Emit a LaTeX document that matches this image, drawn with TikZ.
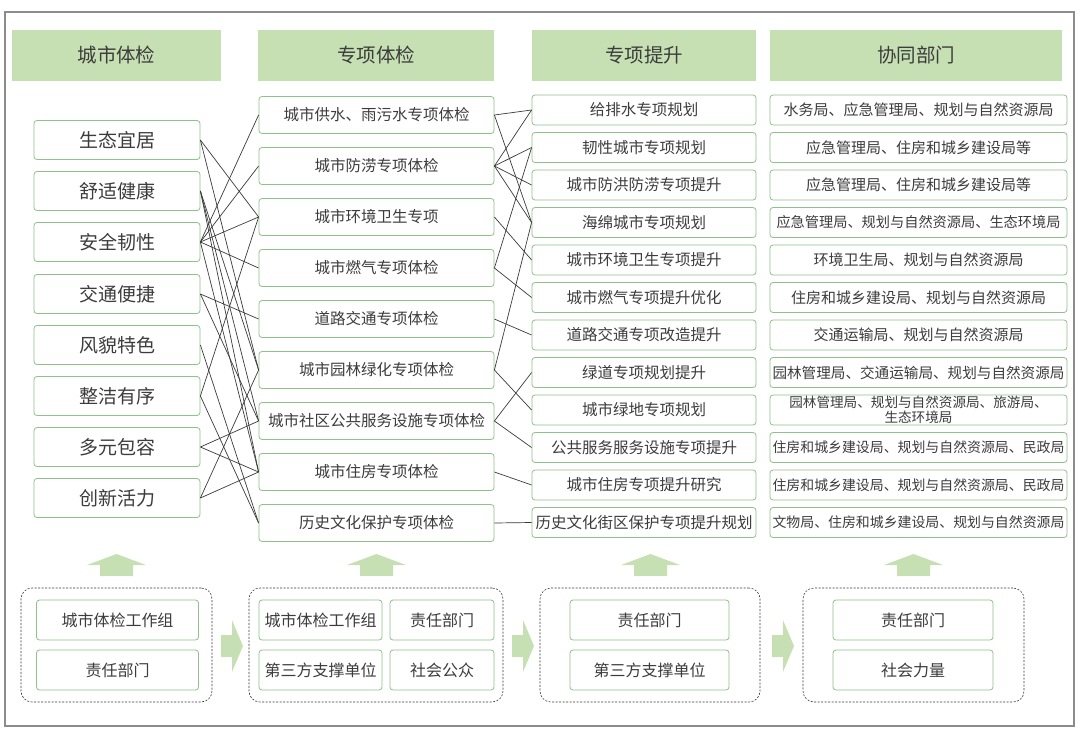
\documentclass[tikz,border=0pt]{standalone}
\usepackage{fontspec}
\setmainfont{Noto Sans CJK SC}
\definecolor{hdgreen}{HTML}{C6E0B4}
\definecolor{bxgreen}{HTML}{8FC28A}
\definecolor{txtgray}{HTML}{3C3C3C}
\definecolor{lngray}{HTML}{3A3A3A}
\definecolor{framegray}{HTML}{8C8C8C}
\usetikzlibrary{positioning}

\begin{document}
\begin{tikzpicture}[x=1pt,y=-1pt,
  headnode/.style={fill=hdgreen,inner sep=0pt,minimum height=51pt,text=txtgray,font=\fontsize{19.5}{19.5}\selectfont},
  itemnode/.style={draw=bxgreen,fill=white,rounded corners=3pt,inner sep=0pt,line width=0.8pt,text=txtgray},
  dimnode/.style={itemnode,minimum width=166pt,minimum height=39pt,font=\fontsize{19}{19}\selectfont},
  chknode/.style={itemnode,minimum width=235pt,minimum height=37pt,font=\fontsize{15.5}{15.5}\selectfont},
  upnode/.style={itemnode,minimum width=224pt,minimum height=30pt,font=\fontsize{15.5}{15.5}\selectfont},
  depnode/.style={itemnode,minimum width=297pt,minimum height=30pt,font=\fontsize{15}{15}\selectfont,align=center},
  grpnode/.style={draw=lngray,dashed,dash pattern=on 2pt off 1.5pt,rounded corners=11pt,line width=0.6pt},
  orgnode/.style={itemnode,minimum height=40pt,font=\fontsize{16}{16}\selectfont},
  link/.style={lngray,line width=0.7pt},
  blockarrow/.style={fill=hdgreen}
]
  \useasboundingbox (0,0) rectangle (1080,729);
  \draw[framegray,line width=1.2pt] (5,12) rectangle (1074,726);
  % Headers
  \node[headnode,minimum width=209pt] (h1) at (116.5,55.5) {城市体检};
  \node[headnode,minimum width=236pt] (h2) at (376,55.5) {专项体检};
  \node[headnode,minimum width=224pt] (h3) at (644,55.5) {专项提升};
  \node[headnode,minimum width=292pt] (h4) at (916,55.5) {协同部门};
  % City check dimensions
  \node[dimnode] (t1) at (117,140) {生态宜居};
  \node[dimnode] (t2) at (117,191) {舒适健康};
  \node[dimnode] (t3) at (117,242) {安全韧性};
  \node[dimnode] (t4) at (117,294) {交通便捷};
  \node[dimnode] (t5) at (117,345) {风貌特色};
  \node[dimnode] (t6) at (117,396) {整洁有序};
  \node[dimnode] (t7) at (117,447) {多元包容};
  \node[dimnode] (t8) at (117,498) {创新活力};
  % Special checks
  \node[chknode] (s1) at (376.5,115) {城市供水、雨污水专项体检};
  \node[chknode] (s2) at (376.5,166) {城市防涝专项体检};
  \node[chknode] (s3) at (376.5,217) {城市环境卫生专项};
  \node[chknode] (s4) at (376.5,268) {城市燃气专项体检};
  \node[chknode] (s5) at (376.5,319) {道路交通专项体检};
  \node[chknode] (s6) at (376.5,370) {城市园林绿化专项体检};
  \node[chknode] (s7) at (376.5,421) {城市社区公共服务设施专项体检};
  \node[chknode] (s8) at (376.5,472) {城市住房专项体检};
  \node[chknode] (s9) at (376.5,523) {历史文化保护专项体检};
  % Special upgrades
  \node[upnode] (p1) at (644,110) {给排水专项规划};
  \node[upnode] (p2) at (644,147.5) {韧性城市专项规划};
  \node[upnode] (p3) at (644,185) {城市防洪防涝专项提升};
  \node[upnode] (p4) at (644,222.5) {海绵城市专项规划};
  \node[upnode] (p5) at (644,260) {城市环境卫生专项提升};
  \node[upnode] (p6) at (644,297.5) {城市燃气专项提升优化};
  \node[upnode] (p7) at (644,335) {道路交通专项改造提升};
  \node[upnode] (p8) at (644,372.5) {绿道专项规划提升};
  \node[upnode] (p9) at (644,410) {城市绿地专项规划};
  \node[upnode] (p10) at (644,447.5) {公共服务服务设施专项提升};
  \node[upnode] (p11) at (644,485) {城市住房专项提升研究};
  \node[upnode] (p12) at (644,522.5) {历史文化街区保护专项提升规划};
  % Departments
  \node[depnode] (d1) at (918.5,110) {水务局、应急管理局、规划与自然资源局};
  \node[depnode] (d2) at (918.5,147.5) {应急管理局、住房和城乡建设局等};
  \node[depnode] (d3) at (918.5,185) {应急管理局、住房和城乡建设局等};
  \node[depnode,font=\fontsize{14.2}{14.2}\selectfont] (d4) at (918.5,222.5) {应急管理局、规划与自然资源局、生态环境局};
  \node[depnode] (d5) at (918.5,260) {环境卫生局、规划与自然资源局};
  \node[depnode] (d6) at (918.5,297.5) {住房和城乡建设局、规划与自然资源局};
  \node[depnode] (d7) at (918.5,335) {交通运输局、规划与自然资源局};
  \node[depnode,font=\fontsize{14.6}{14.6}\selectfont] (d8) at (918.5,372.5) {园林管理局、交通运输局、规划与自然资源局};
  \node[depnode,font=\fontsize{13.6}{15}\selectfont] (d9) at (918.5,410) {园林管理局、规划与自然资源局、旅游局、\\生态环境局};
  \node[depnode,font=\fontsize{13.9}{13.9}\selectfont] (d10) at (918.5,447.5) {住房和城乡建设局、规划与自然资源局、民政局};
  \node[depnode,font=\fontsize{13.9}{13.9}\selectfont] (d11) at (918.5,485) {住房和城乡建设局、规划与自然资源局、民政局};
  \node[depnode,font=\fontsize{13.9}{13.9}\selectfont] (d12) at (918.5,522.5) {文物局、住房和城乡建设局、规划与自然资源局};
  % Links: dimensions to special checks
  \draw[link] (t1.east) -- (s3.west);
  \draw[link] (t1.east) -- (s6.west);
  \draw[link] (t2.east) -- (s6.west);
  \draw[link] (t2.east) -- (s7.west);
  \draw[link] (t2.east) -- (s8.west);
  \draw[link] (t3.east) -- (s1.west);
  \draw[link] (t3.east) -- (s2.west);
  \draw[link] (t3.east) -- (s3.west);
  \draw[link] (t3.east) -- (s4.west);
  \draw[link] (t3.east) -- (s8.west);
  \draw[link] (t4.east) -- (s5.west);
  \draw[link] (t4.east) -- (s7.west);
  \draw[link] (t5.east) -- (s9.west);
  \draw[link] (t6.east) -- (s3.west);
  \draw[link] (t6.east) -- (s9.west);
  \draw[link] (t7.east) -- (s7.west);
  \draw[link] (t7.east) -- (s8.west);
  \draw[link] (t8.east) -- (s6.west);
  \draw[link] (t8.east) -- (s8.west);
  % Links: special checks to upgrades
  \draw[link] (s1.east) -- (p1.west);
  \draw[link] (s1.east) -- (p4.west);
  \draw[link] (s2.east) -- (p1.west);
  \draw[link] (s2.east) -- (p2.west);
  \draw[link] (s2.east) -- (p3.west);
  \draw[link] (s2.east) -- (p4.west);
  \draw[link] (s3.east) -- (p5.west);
  \draw[link] (s4.east) -- (p2.west);
  \draw[link] (s4.east) -- (p6.west);
  \draw[link] (s5.east) -- (p7.west);
  \draw[link] (s6.east) -- (p4.west);
  \draw[link] (s6.east) -- (p9.west);
  \draw[link] (s7.east) -- (p8.west);
  \draw[link] (s7.east) -- (p10.west);
  \draw[link] (s8.east) -- (p11.west);
  \draw[link] (s9.east) -- (p12.west);
  % Up arrows
  \fill[blockarrow] (100,576) -- (100,565) -- (87,565) -- (116.5,554) -- (146,565) -- (133,565) -- (133,576) -- cycle;
  \fill[blockarrow] (360,576) -- (360,565) -- (347,565) -- (376.5,554) -- (406,565) -- (393,565) -- (393,576) -- cycle;
  \fill[blockarrow] (634,576) -- (634,565) -- (621,565) -- (650.5,554) -- (680,565) -- (667,565) -- (667,576) -- cycle;
  \fill[blockarrow] (897,576) -- (897,565) -- (884,565) -- (913.5,554) -- (943,565) -- (930,565) -- (930,576) -- cycle;
  % Groups
  \node[grpnode,minimum width=191pt,minimum height=114pt] (g1) at (116.5,645) {};
  \node[grpnode,minimum width=254pt,minimum height=114pt] (g2) at (376,645) {};
  \node[grpnode,minimum width=220pt,minimum height=114pt] (g3) at (650,645) {};
  \node[grpnode,minimum width=221pt,minimum height=114pt] (g4) at (913.5,645) {};
  \node[orgnode,minimum width=162pt] (w1) at (117.5,620) {城市体检工作组};
  \node[orgnode,minimum width=162pt] (w2) at (117.5,670) {责任部门};
  \node[orgnode,minimum width=123pt] (w3) at (320.5,620) {城市体检工作组};
  \node[orgnode,minimum width=104pt] (w4) at (442,620) {责任部门};
  \node[orgnode,minimum width=123pt] (w5) at (320.5,670) {第三方支撑单位};
  \node[orgnode,minimum width=104pt] (w6) at (442,670) {社会公众};
  \node[orgnode,minimum width=159pt] (w7) at (649.5,620) {责任部门};
  \node[orgnode,minimum width=159pt] (w8) at (649.5,670) {第三方支撑单位};
  \node[orgnode,minimum width=160pt] (w9) at (913,620) {责任部门};
  \node[orgnode,minimum width=160pt] (w10) at (913,670) {社会力量};
  % Right arrows
  \fill[blockarrow] (221,635) -- (232,635) -- (232,620) -- (243,646) -- (232,672) -- (232,657) -- (221,657) -- cycle;
  \fill[blockarrow] (512,635) -- (523,635) -- (523,620) -- (534,646) -- (523,672) -- (523,657) -- (512,657) -- cycle;
  \fill[blockarrow] (772,635) -- (783,635) -- (783,620) -- (794,646) -- (783,672) -- (783,657) -- (772,657) -- cycle;
\end{tikzpicture}
\end{document}
